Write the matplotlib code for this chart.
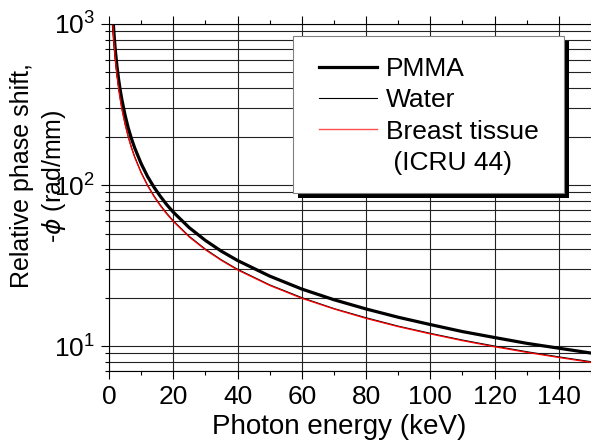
import matplotlib.pyplot as plt
from matplotlib.ticker import MultipleLocator, LogLocator, NullFormatter
from matplotlib.lines import Line2D
from matplotlib.patches import Rectangle

plt.rcParams['font.family'] = ['Liberation Sans', 'DejaVu Sans']
plt.rcParams['font.size'] = 19

# photon energy (keV)
energy = [1.15, 1.3, 1.5, 1.75, 2, 2.5, 3, 3.5, 4, 5, 6, 7, 8, 10, 12, 14, 16,
          18, 20, 25, 30, 35, 40, 50, 60, 70, 80, 90, 100, 110, 120, 130, 140, 150]
# relative phase shift -phi (rad/mm)
phase_pmma = [1181, 1045, 905, 776, 679, 543, 453, 388, 340, 272, 226, 194, 170,
              136, 113, 97, 85, 75.4, 67.9, 54.3, 45.3, 38.8, 34.0, 27.2, 22.6,
              19.4, 17.0, 15.1, 13.6, 12.3, 11.3, 10.4, 9.7, 9.05]
phase_water = [1043, 923, 800, 686, 600, 480, 400, 343, 300, 240, 200, 171, 150,
               120, 100, 85.7, 75, 66.7, 60, 48, 40, 34.3, 30, 24, 20, 17.1, 15,
               13.3, 12, 10.9, 10, 9.23, 8.57, 8.0]
phase_breast = [1033, 914, 792, 679, 594, 475, 396, 340, 297, 238, 198, 170, 148.5,
                119, 99, 84.8, 74.2, 66, 59.4, 47.5, 39.6, 34, 29.7, 23.8, 19.8,
                17, 14.85, 13.2, 11.9, 10.8, 9.9, 9.14, 8.49, 7.92]

labels = ['PMMA', 'Water', 'Breast tissue', ' (ICRU 44)']

fig = plt.figure(figsize=(5.91, 4.41), dpi=100)
ax = fig.add_axes([0.1844, 0.1587, 0.8156, 0.7869])

ax.plot(energy, phase_pmma, color='k', lw=2.3)
ax.plot(energy, phase_water, color='k', lw=0.8)
ax.plot(energy, phase_breast, color='red', lw=0.9)

ax.set_yscale('log')
ax.set_xlim(0, 150)
ax.set_ylim(7, 1000)
ax.xaxis.set_major_locator(MultipleLocator(20))
ax.xaxis.set_minor_locator(MultipleLocator(10))
ax.yaxis.set_major_locator(LogLocator(base=10))
ax.yaxis.set_minor_locator(LogLocator(base=10, subs=range(2, 10)))
ax.yaxis.set_minor_formatter(NullFormatter())

ax.set_axisbelow(True)
ax.grid(True, which='major', axis='x', color='#222222', lw=0.8)
ax.grid(True, which='both', axis='y', color='#222222', lw=0.8)

ax.tick_params(which='both', direction='out', top=True, right=False,
               labeltop=False, width=0.8)
ax.tick_params(which='major', length=6, pad=4)
ax.tick_params(which='minor', length=3)
ax.spines['right'].set_visible(False)
for s in ['left', 'bottom', 'top']:
    ax.spines[s].set_linewidth(0.8)

ax.set_xlabel('Photon energy (keV)', fontsize=20)
ax.xaxis.set_label_coords(0.477, -0.125)
ax.text(-0.181, 0.562, 'Relative phase shift,', transform=ax.transAxes,
        rotation=90, ha='center', va='center', fontsize=18)
ax.text(-0.114, 0.562, r'-$\phi$ (rad/mm)', transform=ax.transAxes,
        rotation=90, ha='center', va='center', fontsize=18)

# legend box with a hard shadow
ax.add_patch(Rectangle((0.3921, 0.4986), 0.5625, 0.4524, transform=ax.transAxes,
                       facecolor='k', edgecolor='none', zorder=4, clip_on=False))
ax.add_patch(Rectangle((0.3817, 0.513), 0.5625, 0.4524, transform=ax.transAxes,
                       facecolor='white', edgecolor='#808080', lw=0.8, zorder=4.5,
                       clip_on=False))

handles = [Line2D([], [], color='k', lw=2.3),
           Line2D([], [], color='k', lw=0.8),
           Line2D([], [], color='#ff5050', lw=1.0),
           Line2D([], [], color='none')]
leg = ax.legend(handles, labels, loc='center', bbox_to_anchor=(0.663, 0.735),
                frameon=False, handlelength=2.2, handletextpad=0.34,
                labelspacing=0.28, borderpad=0, fontsize=19)
leg.set_zorder(5)

fig.savefig('out.png', dpi=100)
